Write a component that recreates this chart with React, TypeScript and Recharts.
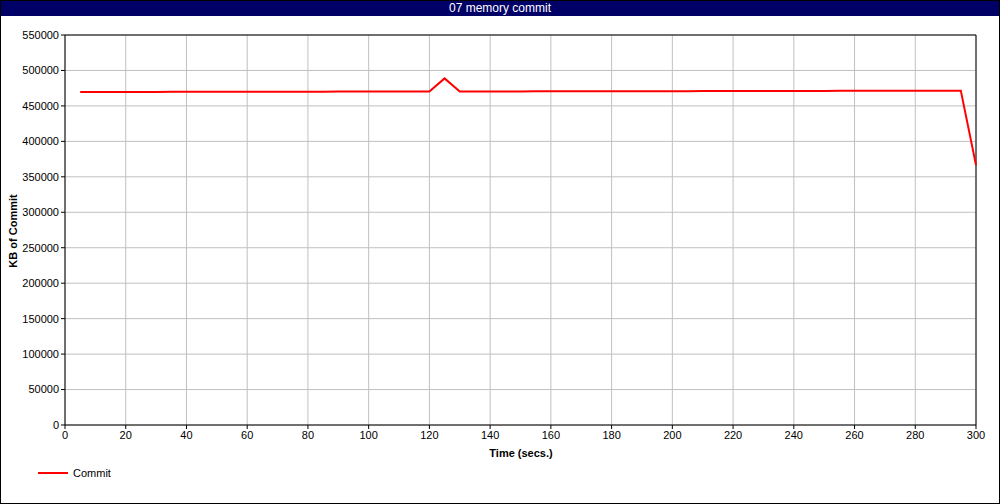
import { LineChart, Line, XAxis, YAxis, CartesianGrid, ReferenceLine } from 'recharts'

const times = [
  5, 10, 15, 20, 25, 30, 35, 40, 45, 50, 55, 60, 65, 70, 75, 80, 85, 90, 95, 100,
  105, 110, 115, 120, 125, 130, 135, 140, 145, 150, 155, 160, 165, 170, 175, 180, 185, 190, 195, 200,
  205, 210, 215, 220, 225, 230, 235, 240, 245, 250, 255, 260, 265, 270, 275, 280, 285, 290, 295, 300,
]

const commit = [
  469600, 469600, 469650, 469700, 469700, 469750, 469800, 469800, 469850, 469900,
  469900, 469950, 470000, 470000, 470050, 470100, 470100, 470150, 470200, 470250,
  470250, 470300, 470350, 470400, 488800, 470200, 470300, 470350, 470400, 470450,
  470500, 470550, 470550, 470600, 470650, 470700, 470700, 470750, 470800, 470850,
  470850, 470900, 470950, 471000, 471000, 471050, 471100, 471150, 471150, 471200,
  471250, 471300, 471300, 471350, 471400, 471450, 471450, 471500, 471550, 366500,
]

const xTicks = [0, 20, 40, 60, 80, 100, 120, 140, 160, 180, 200, 220, 240, 260, 280, 300]
const yTicks = [0, 50000, 100000, 150000, 200000, 250000, 300000, 350000, 400000, 450000, 500000, 550000]

const data = times.map((t, i) => ({ t, commit: commit[i] }))

const font = '"Liberation Sans", Arial, sans-serif'

export default function App() {
  return (
    <div
      style={{
        position: 'fixed',
        left: 0,
        top: 0,
        width: 1000,
        height: 504,
        background: '#fff',
        border: '1px solid #000',
        boxSizing: 'border-box',
        fontFamily: font,
        overflow: 'hidden',
      }}
    >
      <div
        style={{
          position: 'absolute',
          left: 0,
          top: 0,
          width: '100%',
          height: 15,
          background: '#000066',
          color: '#fff',
          fontSize: 12,
          lineHeight: '15px',
          textAlign: 'center',
        }}
      >
        07 memory commit
      </div>
      <div style={{ position: 'absolute', left: -1, top: -1 }}>
        <LineChart
          width={1000}
          height={504}
          data={data}
          margin={{ top: 35, right: 24, left: 8, bottom: 49 }}
        >
          <CartesianGrid stroke="#c0c0c0" />
          <XAxis
            dataKey="t"
            type="number"
            domain={[0, 300]}
            ticks={xTicks}
            interval={0}
            height={30}
            tickSize={4}
            stroke="#000"
            tick={{ fill: '#000', fontSize: 11, fontFamily: font }}
          />
          <YAxis
            type="number"
            domain={[0, 550000]}
            ticks={yTicks}
            interval={0}
            width={57}
            tickSize={4}
            stroke="#000"
            tick={{ fill: '#000', fontSize: 11, fontFamily: font }}
          />
          <ReferenceLine y={550000} stroke="#000" />
          <ReferenceLine x={300} stroke="#000" />
          <Line
            type="linear"
            dataKey="commit"
            stroke="#ff0000"
            strokeWidth={2}
            dot={false}
            isAnimationActive={false}
          />
        </LineChart>
      </div>
      <div
        style={{
          position: 'absolute',
          left: 520,
          top: 446,
          transform: 'translateX(-50%)',
          fontSize: 11,
          fontWeight: 'bold',
          whiteSpace: 'nowrap',
        }}
      >
        Time (secs.)
      </div>
      <div
        style={{
          position: 'absolute',
          left: 12,
          top: 230,
          transform: 'translate(-50%, -50%) rotate(-90deg)',
          fontSize: 11,
          fontWeight: 'bold',
          whiteSpace: 'nowrap',
        }}
      >
        KB of Commit
      </div>
      <div style={{ position: 'absolute', left: 37, top: 466, display: 'flex', alignItems: 'center' }}>
        <div style={{ width: 30, height: 2, background: '#ff0000' }} />
        <span style={{ marginLeft: 5, fontSize: 11 }}>Commit</span>
      </div>
    </div>
  )
}
